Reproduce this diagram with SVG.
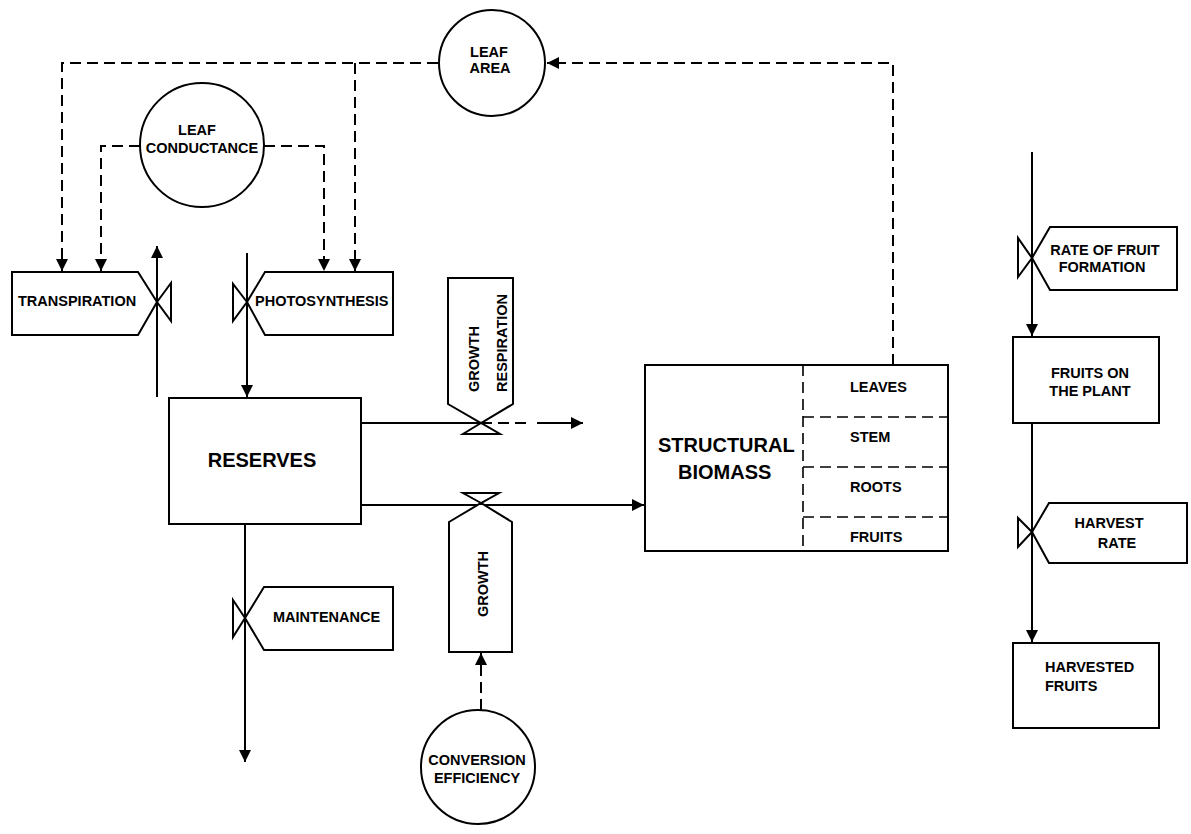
<svg xmlns="http://www.w3.org/2000/svg" width="1191" height="834" viewBox="0 0 1191 834">
<defs>
<style>
.box{fill:#fff;stroke:#000;stroke-width:2}
.valve{fill:#fff;stroke:#000;stroke-width:2;stroke-linejoin:miter}
.flow{fill:none;stroke:#000;stroke-width:2}
.info{fill:none;stroke:#000;stroke-width:2;stroke-dasharray:11 6}
.div{fill:none;stroke:#000;stroke-width:1.6;stroke-dasharray:11 6}
text{font-family:"Liberation Sans",Arial,sans-serif;font-weight:bold;fill:#000}
.s{font-size:14.5px}
.l{font-size:20px}
.c{text-anchor:middle}
</style>
<marker id="ah" markerUnits="userSpaceOnUse" markerWidth="13" markerHeight="13" refX="12" refY="6" orient="auto" viewBox="0 0 13 12">
<path d="M0,0 L12,6 L0,12 Z" fill="#000"/>
</marker>
</defs>
<rect width="1191" height="834" fill="#fff"/>

<g id="connectors">
<path class="info" d="M438,63 H62 V271" marker-end="url(#ah)"/>
<path class="info" d="M355,63 V271" marker-end="url(#ah)"/>
<path class="info" d="M893,365 V63 H547" marker-end="url(#ah)"/>
<path class="info" d="M140,146 H101 V271" marker-end="url(#ah)"/>
<path class="info" d="M264,146 H324 V271" marker-end="url(#ah)"/>
<path class="flow" d="M157,397 V246" marker-end="url(#ah)"/>
<path class="flow" d="M247,253 V397" marker-end="url(#ah)"/>
<path class="flow" d="M361,423 H481"/>
<path class="info" d="M481,423 H530"/>
<path class="flow" d="M537,423 H583" marker-end="url(#ah)"/>
<path class="flow" d="M361,505 H644" marker-end="url(#ah)"/>
<path class="flow" d="M245,524 V762" marker-end="url(#ah)"/>
<path class="info" d="M481,710 V653" marker-end="url(#ah)"/>
<path class="flow" d="M1032,152 V336" marker-end="url(#ah)"/>
<path class="flow" d="M1032,423 V642" marker-end="url(#ah)"/>
</g>

<g id="leaf-area">
<circle class="box" cx="492" cy="63" r="53"/>
<text class="s c" x="489" y="57">LEAF</text>
<text class="s c" x="490" y="73">AREA</text>
</g>

<g id="leaf-conductance">
<circle class="box" cx="202" cy="145" r="62"/>
<text class="s c" x="197" y="135">LEAF</text>
<text class="s c" x="202" y="153">CONDUCTANCE</text>
</g>

<g id="transpiration">
<path class="box" d="M12,272 H138 L157,302 L138,335 H12 Z"/>
<path class="valve" d="M157,302 L171,283 V321 Z"/>
<text class="s" x="18" y="306">TRANSPIRATION</text>
</g>

<g id="photosynthesis">
<path class="box" d="M393,272 H265 L247,302 L265,335 H393 Z"/>
<path class="valve" d="M247,302 L233,284 V321 Z"/>
<text class="s" x="255" y="306">PHOTOSYNTHESIS</text>
</g>

<g id="reserves">
<rect class="box" x="169" y="398" width="192" height="126"/>
<text class="l c" x="262" y="467">RESERVES</text>
</g>

<g id="growth-respiration">
<path class="box" d="M448,278 H513 V404 L481,423 L448,404 Z"/>
<path class="valve" d="M481,423 L463,434 H500 Z"/>
<text class="s" transform="translate(479,392) rotate(-90)">GROWTH</text>
<text class="s" transform="translate(507,392) rotate(-90)">RESPIRATION</text>
</g>

<g id="growth">
<path class="box" d="M449,522 L481,503 L512,522 V652 H449 Z"/>
<path class="valve" d="M481,503 L463,493 H499 Z"/>
<text class="s c" transform="translate(488,584) rotate(-90)">GROWTH</text>
</g>

<g id="conversion-efficiency">
<circle class="box" cx="478" cy="767" r="57"/>
<text class="s c" x="477" y="765">CONVERSION</text>
<text class="s c" x="477" y="783">EFFICIENCY</text>
</g>

<g id="maintenance">
<path class="box" d="M393,587 H264 L245,618 L264,650 H393 Z"/>
<path class="valve" d="M245,618 L233,600 V637 Z"/>
<text class="s" x="273" y="622">MAINTENANCE</text>
</g>

<g id="structural-biomass">
<rect class="box" x="645" y="365" width="303" height="186"/>
<path class="div" d="M803,365 V551"/>
<path class="div" d="M803,417 H948 M803,467 H948 M803,517 H948"/>
<text class="l" x="658" y="452">STRUCTURAL</text>
<text class="l" x="678" y="479">BIOMASS</text>
<text class="s" x="850" y="392">LEAVES</text>
<text class="s" x="850" y="442">STEM</text>
<text class="s" x="850" y="492">ROOTS</text>
<text class="s" x="850" y="542">FRUITS</text>
</g>

<g id="rate-of-fruit-formation">
<path class="box" d="M1177,227 H1050 L1032,258 L1050,290 H1177 Z"/>
<path class="valve" d="M1032,258 L1018,238 V277 Z"/>
<text class="s c" x="1105" y="255">RATE OF FRUIT</text>
<text class="s c" x="1102" y="272">FORMATION</text>
</g>

<g id="fruits-on-plant">
<rect class="box" x="1013" y="337" width="146" height="86"/>
<text class="s c" x="1090" y="378">FRUITS ON</text>
<text class="s c" x="1090" y="396">THE PLANT</text>
</g>

<g id="harvest-rate">
<path class="box" d="M1187,503 H1049 L1032,532 L1049,563 H1187 Z"/>
<path class="valve" d="M1032,532 L1018,518 V547 Z"/>
<text class="s c" x="1109" y="528">HARVEST</text>
<text class="s c" x="1117" y="548">RATE</text>
</g>

<g id="harvested-fruits">
<rect class="box" x="1013" y="643" width="146" height="85"/>
<text class="s" x="1045" y="672">HARVESTED</text>
<text class="s" x="1045" y="691">FRUITS</text>
</g>
</svg>
